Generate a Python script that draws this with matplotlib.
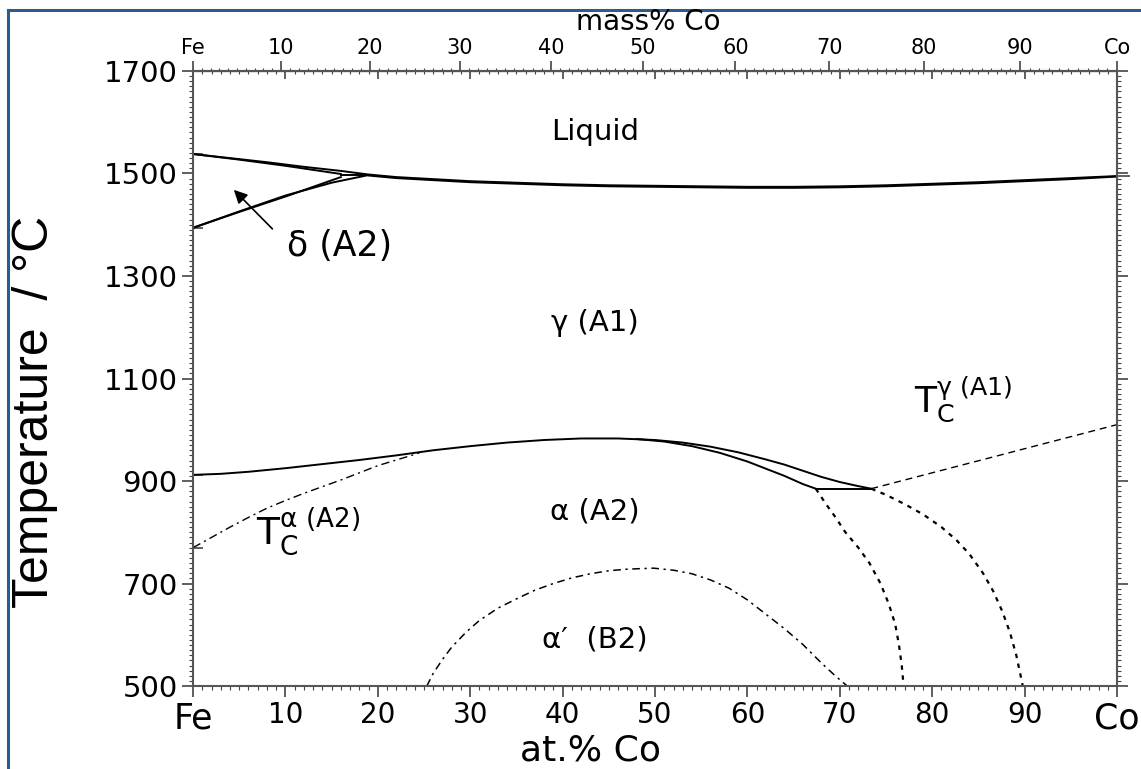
import numpy as np
import matplotlib.pyplot as plt
from matplotlib.ticker import MultipleLocator, FixedLocator
from matplotlib.lines import Line2D

plt.rcParams["font.family"] = ["DejaVu Sans"]
plt.rcParams["mathtext.fontset"] = "dejavusans"

M_FE, M_CO = 55.845, 58.933

# phase boundaries (at.% Co, deg C)
liq_x = [0, 4, 8, 12, 16, 19, 22, 26, 30, 35, 40, 45, 50, 55, 60, 65, 70, 75, 80, 85, 90, 95, 100]
liq_t = [1538, 1530, 1522, 1513, 1505, 1498, 1493, 1489, 1485, 1482, 1479, 1477, 1476, 1475,
         1474, 1474, 1475, 1477, 1480, 1483, 1487, 1491, 1495]
sol_x = [19, 22, 26, 30, 35, 40, 45, 50, 55, 60, 65, 70, 75, 80, 85, 90, 95, 100]
sol_t = [1496, 1491, 1487, 1483, 1480, 1477, 1475, 1474, 1473, 1472, 1472, 1473, 1475,
         1478, 1481, 1485, 1489, 1494]
delta_sol_x = [0, 5, 10, 16]
delta_sol_t = [1538, 1527, 1515, 1499]
delta_solv_x = [0, 5, 10, 16]
delta_solv_t = [1394, 1425, 1455, 1493]
gam_delta_x = [0, 5, 10, 15, 19]
gam_delta_t = [1394, 1426, 1457, 1482, 1497]
perit_x = [16, 19]
perit_t = [1497, 1497]

gam_x = [0, 3, 6, 10, 14, 18, 22, 26, 30, 34, 38, 42, 46, 50, 53, 56, 59, 62, 64, 66, 68, 70,
         72, 73.4]
gam_t = [912, 914, 918, 925, 933, 941, 950, 960, 968, 975, 980, 983, 983, 980, 975, 967, 956,
         942, 932, 920, 908, 898, 890, 885]
alp_x = [48, 51, 54, 57, 60, 62, 64, 66, 67.4]
alp_t = [982, 977, 968, 955, 938, 924, 910, 894, 885]
eut_x = [67.4, 73.4]
eut_t = [885, 885]

tc_a_x = [0, 2, 4, 6, 8, 10, 12, 14, 16, 18, 20, 22, 24, 24.5]
tc_a_t = [770, 790, 810, 829, 847, 862, 876, 889, 902, 916, 930, 941, 952, 955]
tc_g_x = [73.4, 100]
tc_g_t = [885, 1010]
meta1_x = [67.4, 68.5, 69.5, 70.6, 72, 73.2, 74.4, 75.3, 76, 76.4, 76.7, 76.9]
meta1_t = [885, 855, 830, 800, 770, 740, 700, 660, 620, 580, 540, 500]
meta2_x = [73.4, 75, 77, 79, 81, 82.6, 84, 85.5, 86.6, 87.6, 88.4, 89.1, 89.8]
meta2_t = [885, 873, 855, 835, 810, 785, 758, 720, 685, 645, 605, 560, 500]
b2_x = [25.3, 26, 27, 28, 29.6, 31, 33, 35, 37, 39, 41, 43, 45, 47, 49.8, 52, 54, 56, 58, 60,
        62, 64, 66, 68, 69.5, 70.8]
b2_t = [500, 525, 552, 576, 606, 628, 652, 670, 687, 700, 711, 719, 725, 728, 730, 726, 719,
        707, 691, 668, 640, 612, 581, 545, 520, 500]

# pure-element transition temperatures marked on the side axes
fe_marks = [1538, 1394, 912, 770]
co_marks = [1495]

bot_ticks = [0, 10, 20, 30, 40, 50, 60, 70, 80, 90, 100]
bot_labels = ["Fe", "10", "20", "30", "40", "50", "60", "70", "80", "90", "Co"]
top_labels = ["Fe", "10", "20", "30", "40", "50", "60", "70", "80", "90", "Co"]
y_ticks = [500, 700, 900, 1100, 1300, 1500, 1700]


def at2mass(x):
    x = np.asarray(x, dtype=float)
    return 100 * x * M_CO / (x * M_CO + (100 - x) * M_FE)


def mass2at(w):
    w = np.asarray(w, dtype=float)
    return 100 * (w / M_CO) / (w / M_CO + (100 - w) / M_FE)


fig = plt.figure(figsize=(11.41, 7.69), dpi=100)
ax = fig.add_axes([0.1692, 0.1079, 0.8098, 0.7998])
ax.set_xlim(0, 100)
ax.set_ylim(500, 1700)

solid = dict(color="black", lw=1.4, solid_joinstyle="round")
ax.plot(liq_x, liq_t, **solid)
ax.plot(sol_x, sol_t, **solid)
ax.plot(delta_sol_x, delta_sol_t, **solid)
ax.plot(delta_solv_x, delta_solv_t, **solid)
ax.plot(gam_delta_x, gam_delta_t, **solid)
ax.plot(perit_x, perit_t, **solid)
ax.plot(gam_x, gam_t, **solid)
ax.plot(alp_x, alp_t, **solid)
ax.plot(eut_x, eut_t, **solid)

ax.plot(tc_a_x, tc_a_t, color="black", lw=1.0, dashes=[6, 3, 1.5, 3])
ax.plot(b2_x, b2_t, color="black", lw=1.1, dashes=[5, 3, 1.5, 3])
ax.plot(tc_g_x, tc_g_t, color="black", lw=1.0, dashes=[5, 3.5])
ax.plot(meta1_x, meta1_t, color="black", lw=1.6, dashes=[2, 2.5])
ax.plot(meta2_x, meta2_t, color="black", lw=1.6, dashes=[2, 2.5])

# phase labels
lab = dict(ha="center", va="center", fontsize=21)
ax.text(43.5, 1581, "Liquid", **lab)
ax.text(15.9, 1358, "δ (A2)", ha="center", va="center", fontsize=25)
ax.text(43.5, 1208, "γ (A1)", **lab)
ax.text(43.5, 840, "α (A2)", **lab)
ax.text(43.5, 590, "α′  (B2)", **lab)
ax.annotate("", xy=(4.2, 1472), xytext=(8.8, 1388),
            arrowprops=dict(arrowstyle="-|>", color="black", lw=1.2,
                            mutation_scale=20))
ax.text(6.8, 800, r"$\mathrm{T}_\mathrm{C}^{\mathrm{α\ (A2)}}$",
        fontsize=27, ha="left", va="center")
ax.text(78.0, 1058, r"$\mathrm{T}_\mathrm{C}^{\mathrm{γ\ (A1)}}$",
        fontsize=26, ha="left", va="center")

# axes, ticks
for s in ax.spines.values():
    s.set_linewidth(1.5)
    s.set_color("#555555")
ax.set_xticks(bot_ticks)
ax.set_xticklabels(bot_labels)
ax.set_yticks(y_ticks)
ax.xaxis.set_minor_locator(MultipleLocator(1))
ax.yaxis.set_minor_locator(MultipleLocator(10))
ax.tick_params(which="both", direction="out", right=True, top=False,
               colors="#444444", labelcolor="black")
ax.tick_params(which="major", length=8, width=1.2)
ax.tick_params(which="minor", length=3, width=0.8)
ax.tick_params(axis="y", labelsize=21, pad=3)
ax.tick_params(axis="x", labelsize=20, pad=3)
for t in ax.get_xticklabels():
    if t.get_text() in ("Fe", "Co"):
        t.set_fontsize(25)
ax.set_xlabel("at.% Co", fontsize=26)
ax.xaxis.set_label_coords(0.43, -0.078)
ax.set_ylabel("Temperature  / °C", fontsize=36, family="Liberation Sans")
ax.yaxis.set_label_coords(-0.146, 0.445)

left_in = ax.secondary_yaxis("left")
left_in.set_yticks(fe_marks)
left_in.tick_params(direction="in", length=7, width=1.2, labelleft=False, colors="#444444")
left_in.spines["left"].set_visible(False)
right_out = ax.secondary_yaxis("right")
right_out.set_yticks(co_marks)
right_out.tick_params(direction="out", length=9, width=1.2, labelright=False, colors="#444444")
right_out.spines["right"].set_visible(False)

# top: at.% ticks inward
top_in = ax.secondary_xaxis("top")
top_in.set_xticks(bot_ticks)
top_in.xaxis.set_minor_locator(MultipleLocator(1))
top_in.tick_params(which="both", direction="in", labeltop=False, colors="#444444")
top_in.tick_params(which="major", length=6, width=1.2)
top_in.tick_params(which="minor", length=2.5, width=0.8)
top_in.spines["top"].set_linewidth(1.5)
top_in.spines["top"].set_color("#555555")

# top: mass% scale
top = ax.secondary_xaxis("top", functions=(at2mass, mass2at))
top.set_xticks(bot_ticks)
top.set_xticklabels(top_labels)
top.xaxis.set_minor_locator(FixedLocator(list(range(0, 101))))
top.tick_params(which="both", direction="out", labelsize=15, pad=2,
                colors="#444444", labelcolor="black")
top.tick_params(which="major", length=7, width=1.2)
top.tick_params(which="minor", length=2.5, width=0.8)
fig.text(648 / 1141, 1 - 22 / 769, "mass% Co", fontsize=20, ha="center", va="center")

# frame of the cropped slide
fig.add_artist(Line2D([8 / 1141, 8 / 1141], [0, 1 - 10 / 769],
                      transform=fig.transFigure, color="#2c5c8c", lw=2.2))
fig.add_artist(Line2D([8 / 1141, 1], [1 - 10 / 769, 1 - 10 / 769],
                      transform=fig.transFigure, color="#2c5c8c", lw=2.2))

fig.savefig("out.png", dpi=100)
